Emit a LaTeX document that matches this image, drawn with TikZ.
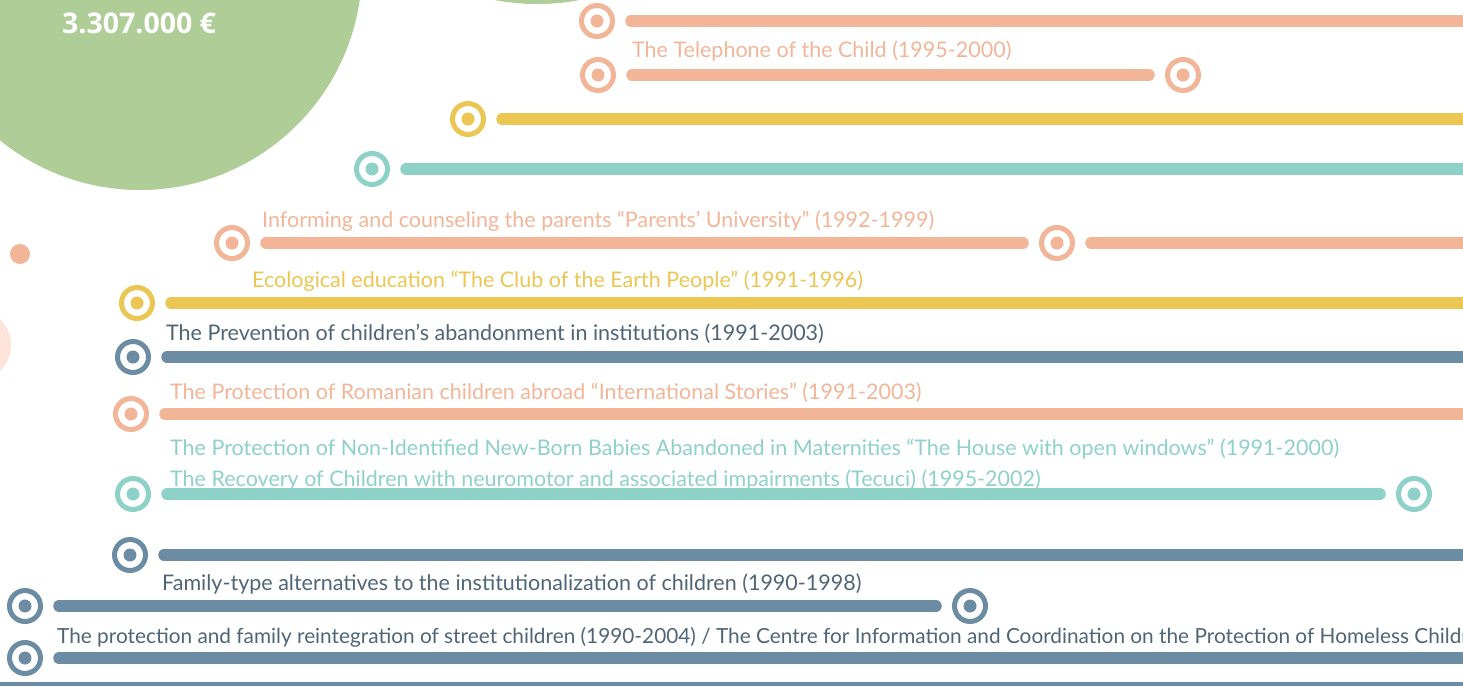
\documentclass[tikz,border=0pt]{standalone}
\usepackage{fontspec}
\setmainfont{Lato}
\newfontfamily\sumfont{Open Sans}
\usepackage{xcolor}
\usepackage{tikz}
\usetikzlibrary{positioning}
\definecolor{leaf}{HTML}{AFCD97}
\definecolor{salmon}{HTML}{F3B597}
\definecolor{blush}{HTML}{FDE3DA}
\definecolor{mustard}{HTML}{EBC653}
\definecolor{aqua}{HTML}{8DD1C9}
\definecolor{slate}{HTML}{6C8CA3}
\definecolor{slatedark}{HTML}{4F6577}
\newcommand{\rightend}{1490}
\tikzset{
	ring/.style={circle, draw=#1, line width=5pt, minimum size=31pt, inner sep=0pt, fill=white,
		path picture={\fill[#1] (path picture bounding box.center) circle (6.5pt);}},
	bar/.style={draw=#1, line width=11.5pt, line cap=round, shorten <=16pt, shorten >=16pt},
	caption/.style={anchor=base west, inner sep=0pt, text=#1, font=\fontsize{21.5}{21.5}\selectfont}
}

\begin{document}
\begin{tikzpicture}[x=1pt, y=-1pt]

	\useasboundingbox (0,0) rectangle (1463,686);
	\clip (0,0) rectangle (1463,686);

	% backdrop circles
	\fill[leaf] (140,-32) circle (222pt);
	\fill[leaf] (537,-224) circle (228pt);
	\fill[salmon] (20,254) circle (10pt);
	\fill[blush] (-25,345) circle (36pt);
	\node[anchor=base west, inner sep=0pt, text=white, font=\sumfont\bfseries\fontsize{28.5}{28.5}\selectfont] (sum) at (62,33) {3.307.000 €};

	% markers
	\node[ring=salmon] (a1) at (597,21) {};
	\node[ring=salmon] (b1) at (598,75) {};
	\node[ring=salmon] (b2) at (1183,75) {};
	\node[ring=mustard] (c1) at (468,119) {};
	\node[ring=aqua] (d1) at (372,169) {};
	\node[ring=salmon] (e1) at (232,243) {};
	\node[ring=salmon] (e2) at (1057,243) {};
	\node[ring=mustard] (f1) at (137,303) {};
	\node[ring=slate] (g1) at (133,357) {};
	\node[ring=salmon] (h1) at (131,414) {};
	\node[ring=aqua] (i1) at (133,494) {};
	\node[ring=aqua] (i2) at (1414,494) {};
	\node[ring=slate] (j1) at (130,555) {};
	\node[ring=slate] (k1) at (25,606) {};
	\node[ring=slate] (k2) at (970,606) {};
	\node[ring=slate] (l1) at (25,658) {};

	% free ends past the right edge
	\coordinate (a1e) at (\rightend,21);
	\coordinate (c1e) at (\rightend,119);
	\coordinate (d1e) at (\rightend,169);
	\coordinate (e2e) at (\rightend,243);
	\coordinate (f1e) at (\rightend,303);
	\coordinate (g1e) at (\rightend,357);
	\coordinate (h1e) at (\rightend,414);
	\coordinate (j1e) at (\rightend,555);
	\coordinate (l1e) at (\rightend,658);

	% bars
	\draw[bar=salmon] (a1) -- (a1e);
	\draw[bar=salmon] (b1) -- (b2);
	\draw[bar=mustard] (c1) -- (c1e);
	\draw[bar=aqua] (d1) -- (d1e);
	\draw[bar=salmon] (e1) -- (e2);
	\draw[bar=salmon] (e2) -- (e2e);
	\draw[bar=mustard] (f1) -- (f1e);
	\draw[bar=slate] (g1) -- (g1e);
	\draw[bar=salmon] (h1) -- (h1e);
	\draw[bar=aqua] (i1) -- (i2);
	\draw[bar=slate] (j1) -- (j1e);
	\draw[bar=slate] (k1) -- (k2);
	\draw[bar=slate] (l1) -- (l1e);

	% captions
	\node[caption=salmon] (ta) at (632,57) {The Telephone of the Child (1995-2000)};
	\node[caption=salmon] (te) at (262,227) {Informing and counseling the parents ``Parents' University'' (1992-1999)};
	\node[caption=mustard] (tf) at (252,287) {Ecological education ``The Club of the Earth People'' (1991-1996)};
	\node[caption=slatedark] (tg) at (166,340) {The Prevention of children's abandonment in institutions (1991-2003)};
	\node[caption=salmon] (th) at (170,399) {The Protection of Romanian children abroad ``International Stories'' (1991-2003)};
	\node[caption=aqua] (tn) at (170,455) {The Protection of Non-Identified New-Born Babies Abandoned in Maternities ``The House with open windows'' (1991-2000)};
	\node[caption=aqua] (ti) at (170,486) {The Recovery of Children with neuromotor and associated impairments (Tecuci) (1995-2002)};
	\node[caption=slatedark] (tk) at (162,590) {Family-type alternatives to the institutionalization of children (1990-1998)};
	\node[caption=slatedark, font=\fontsize{20.8}{20.8}\selectfont] (tl) at (57,643) {The protection and family reintegration of street children (1990-2004) / The Centre for Information and Coordination on the Protection of Homeless Children};

	% bottom rule
	\coordinate (r0) at (0,684);
	\coordinate (r1) at (1463,684);
	\draw[slate, line width=4pt] (r0) -- (r1);

\end{tikzpicture}
\end{document}
